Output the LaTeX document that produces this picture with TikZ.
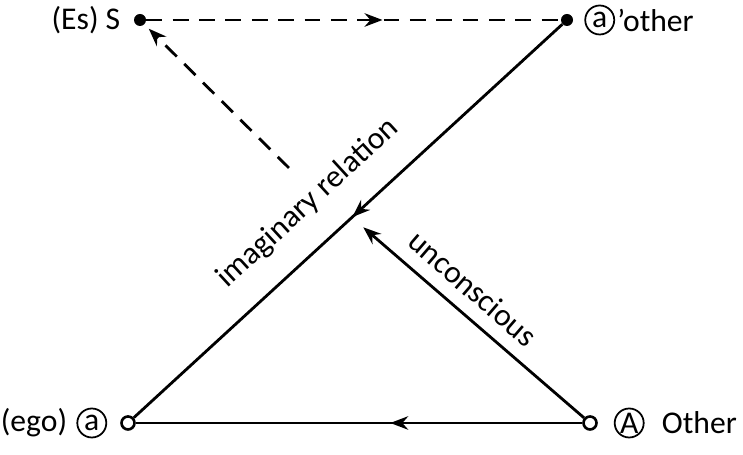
\documentclass[tikz,border=0pt]{standalone}
\usepackage{fontspec}
\setmainfont{Carlito}
\usepackage{tikz}
\usetikzlibrary{arrows.meta, positioning, calc, decorations.markings}

\begin{document}
\begin{tikzpicture}[
  font=\fontsize{18}{21}\selectfont,
  >=Stealth,
  dot/.style={circle, fill=black, inner sep=0pt, minimum size=0.24cm},
  ring/.style={circle, draw=black, fill=white, line width=1.5pt,
    inner sep=0pt, minimum size=0.26cm},
  circled/.style={circle, draw=black, line width=1pt, inner sep=0pt,
    minimum size=0.58cm, font=\fontsize{18}{20}\selectfont},
  lbl/.style={inner sep=0pt},
  line/.style={line width=1.6pt},
  dashline/.style={line width=1.6pt, dash pattern=on 9pt off 6pt},
  midarrow/.style={postaction={decorate},
    decoration={markings, mark=at position #1 with {\arrow{Stealth}}}},
]
\useasboundingbox (0,0) rectangle (14.86,9.10);

%% ============================================================
%% The four corners
%% ============================================================
\node[dot]  (S)  at (2.80,8.70)  {};
\node[dot]  (ao) at (11.34,8.70) {};
\node[ring] (a)  at (2.56,0.64)  {};
\node[ring] (A)  at (11.80,0.64) {};

\node[lbl, left=0.26cm of S]       (Slbl)  {(Es) S};

\node[circled, right=0.22cm of ao] (aoc)   {a};
\node[lbl, right=0.04cm of aoc]    (aolbl) {’other};

\node[circled, left=0.26cm of a]   (ac)    {a};
\node[lbl, left=0.18cm of ac]      (albl)  {(ego)};

\node[circled, right=0.32cm of A]  (Ac)    {A};
\node[lbl, right=0.34cm of Ac]     (Albl)  {Other};

%% ============================================================
%% Connectors
%% ============================================================
\draw[dashline, midarrow=0.57] (S) -- (ao);

\coordinate (dtail) at (5.78,5.74);
\draw[dashline, ->, shorten >=0.12cm] (dtail) -- (S);

\draw[line, midarrow=0.49] (ao) --
  node[lbl, pos=0.53, sloped, above=0.5cm] (imag) {imaginary relation} (a);

\coordinate (cross) at ($(ao)!0.49!(a)$);
\draw[line, ->, shorten >=0.3cm] (A) --
  node[lbl, pos=0.55, sloped, above=0.26cm] (uncon) {unconscious} (cross);

\draw[line, midarrow=0.43] (A) -- (a);

\end{tikzpicture}
\end{document}
